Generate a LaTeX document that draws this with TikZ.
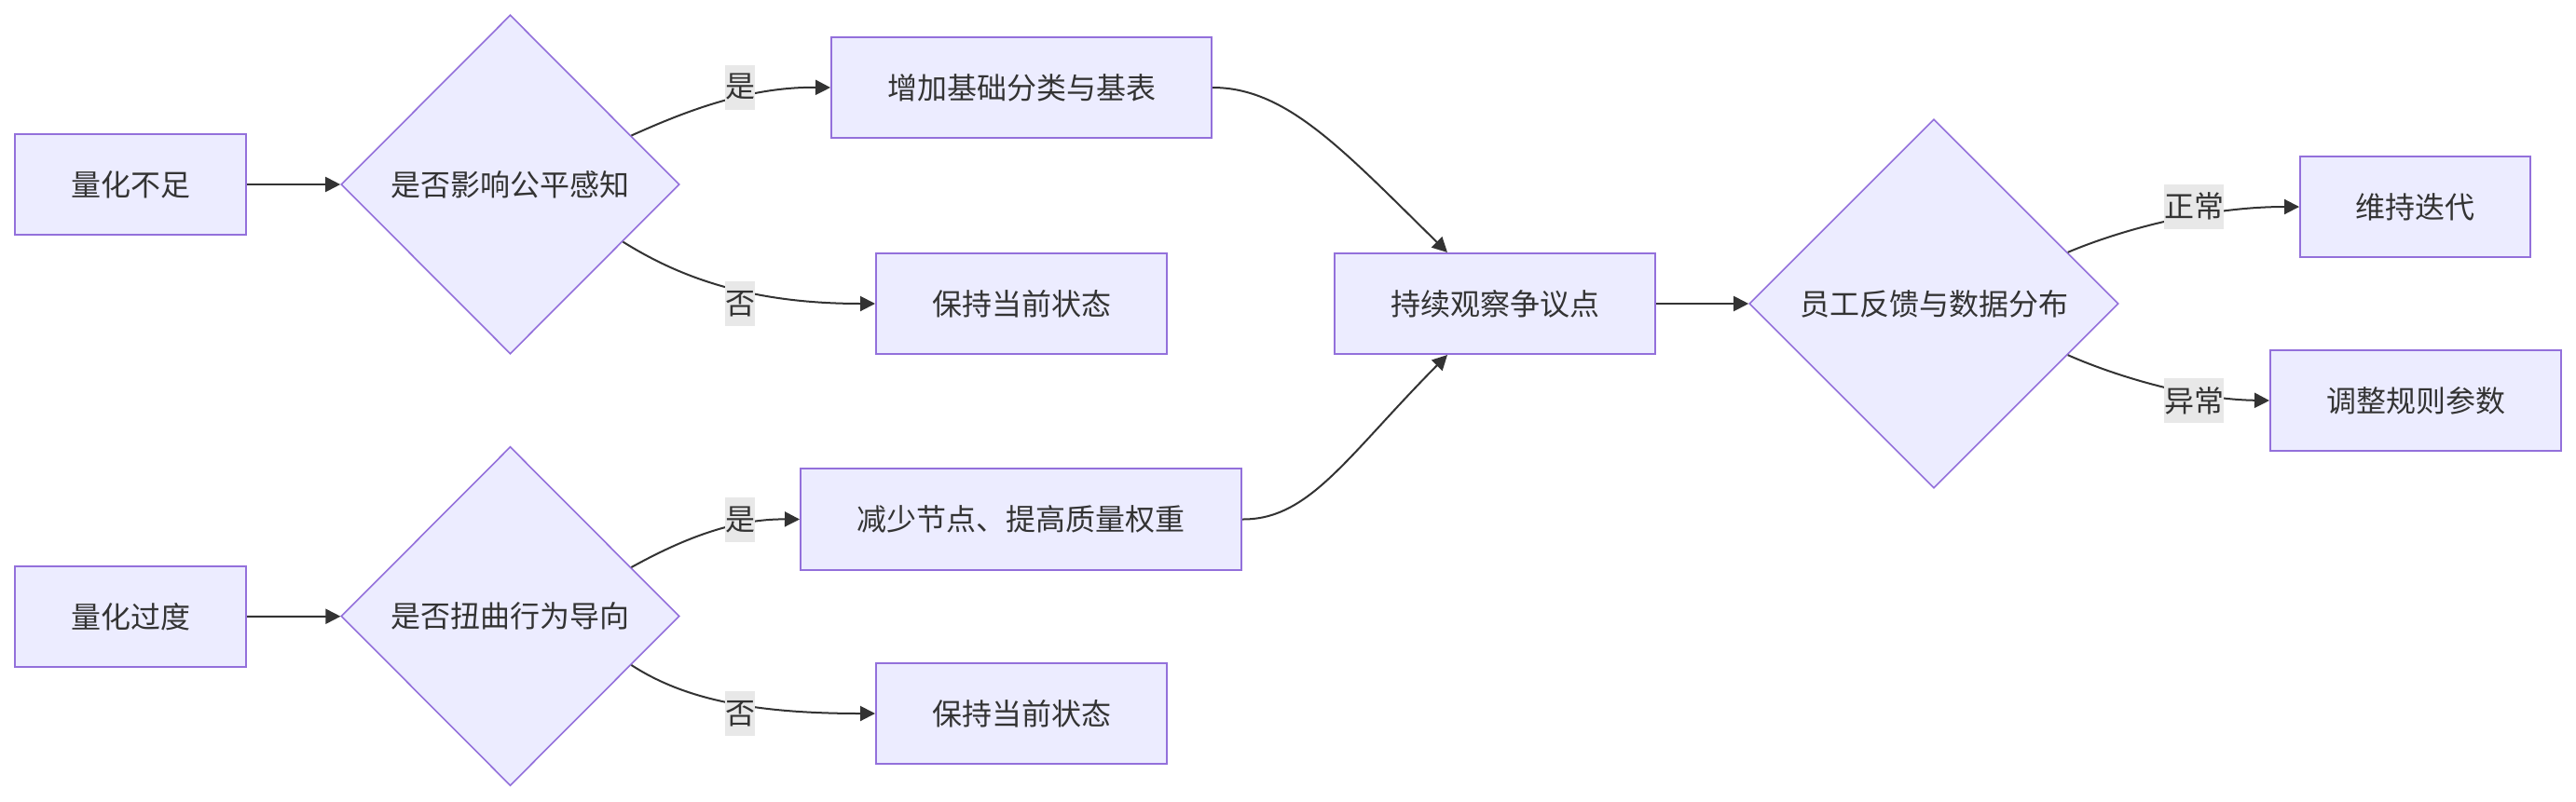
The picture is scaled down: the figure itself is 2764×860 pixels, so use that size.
\documentclass[tikz,border=0pt]{standalone}
\usepackage{fontspec}
\newfontfamily\cjk{Noto Sans CJK SC}
\usetikzlibrary{shapes.geometric,arrows.meta}
\definecolor{mmfill}{HTML}{ECECFF}
\definecolor{mmstroke}{HTML}{9370DB}
\definecolor{mmtext}{HTML}{333333}
\definecolor{mmedge}{HTML}{333333}
\definecolor{mmlabel}{HTML}{E8E8E8}
\tikzset{
  box/.style={draw=mmstroke, fill=mmfill, line width=2pt, minimum height=108pt, inner sep=0pt,
    text=mmtext, font={\cjk\fontsize{32}{48}\selectfont}},
  dia/.style={diamond, aspect=1, draw=mmstroke, fill=mmfill, line width=1.6pt, inner sep=0pt,
    text=mmtext, font={\cjk\fontsize{32}{48}\selectfont}},
  lbl/.style={fill=mmlabel, inner sep=0pt, minimum height=48pt, text=mmtext,
    font={\cjk\fontsize{32}{48}\selectfont}},
  edge/.style={draw=mmedge, line width=2pt, -{Triangle[length=16pt,width=16pt]}},
}
\begin{document}
\begin{tikzpicture}[x=1pt,y=-1pt]
\fill[white] (0,0) rectangle (2764,860);
\useasboundingbox (0,0) rectangle (2764,860);

% nodes
\node[box, minimum width=248pt] (A) at (140,198) {量化不足};
\node[dia, minimum width=363pt, minimum height=364pt] (B) at (547.5,198) {是否影响公平感知};
\node[box, minimum width=408pt] (C) at (1096,94) {增加基础分类与基表};
\node[box, minimum width=312pt] (D) at (1096,326) {保持当前状态};
\node[box, minimum width=248pt] (E) at (140,662) {量化过度};
\node[dia, minimum width=363pt, minimum height=364pt] (F) at (547.5,661.5) {是否扭曲行为导向};
\node[box, minimum width=473pt, minimum height=109pt] (G) at (1095.5,557.5) {减少节点、提高质量权重};
\node[box, minimum width=312pt] (H) at (1096,766) {保持当前状态};
\node[box, minimum width=344pt] (I) at (1604,326) {持续观察争议点};
\node[dia, minimum width=396pt, minimum height=396pt] (J) at (2075,326) {员工反馈与数据分布};
\node[box, minimum width=247pt] (K) at (2591.5,222) {维持迭代};
\node[box, minimum width=312pt] (L) at (2592,430) {调整规则参数};

% edges
\draw[edge] (A) -- (B);
\draw[edge] (B.22) .. controls (730,122) and (800,93) .. (C.west);
\draw[edge] (B.-27) .. controls (725,295) and (800,326) .. (D.west);
\draw[edge] (E) -- (F);
\draw[edge] (F.22) .. controls (730,580) and (785,557) .. (G.west);
\draw[edge] (F.-22) .. controls (730,748) and (800,766) .. (H.west);
\draw[edge] (C.east) .. controls (1380,94) and (1440,160) .. ([xshift=-51pt]I.north);
\draw[edge] (G.east) .. controls (1405,558) and (1445,490) .. ([xshift=-51pt]I.south);
\draw[edge] (I) -- (J);
\draw[edge] (J.21) .. controls (2280,245) and (2370,222) .. (K.west);
\draw[edge] (J.-21) .. controls (2280,408) and (2360,429) .. (L.west);

% edge labels
\node[lbl] (l1) at (794,93.5) {是};
\node[lbl] (l2) at (794,326) {否};
\node[lbl] (l3) at (794,558) {是};
\node[lbl] (l4) at (794,766) {否};
\node[lbl] (l5) at (2354,221.5) {正常};
\node[lbl] (l6) at (2354,430) {异常};
\end{tikzpicture}
\end{document}
